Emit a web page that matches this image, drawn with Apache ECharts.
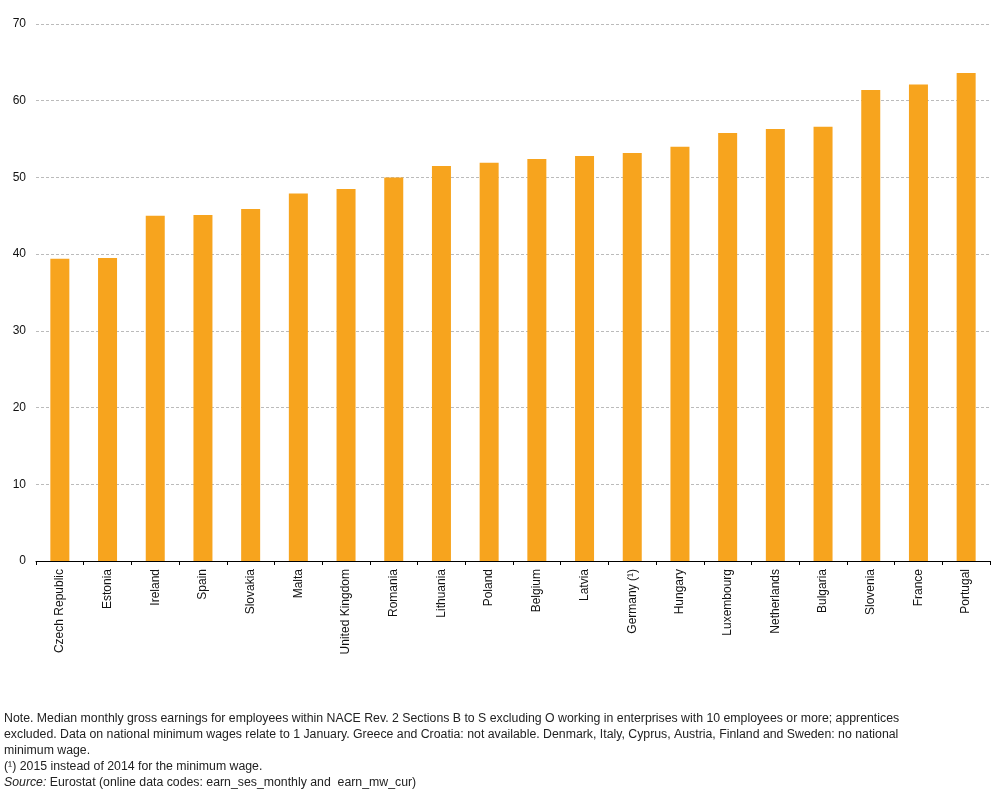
<!DOCTYPE html>
<html>
<head>
<meta charset="utf-8">
<script src="https://cdn.jsdelivr.net/npm/echarts@6/dist/echarts.min.js"></script>
<style>
html,body{margin:0;padding:0;background:#fff;}
#chart{width:1005px;height:792px;}
</style>
</head>
<body>
<div id="chart"></div>
<script>
const categories = ["Czech Republic","Estonia","Ireland","Spain","Slovakia","Malta","United Kingdom","Romania","Lithuania","Poland","Belgium","Latvia","Germany (¹)","Hungary","Luxembourg","Netherlands","Bulgaria","Slovenia","France","Portugal"];
const values = [39.4,39.5,45.0,45.1,45.9,47.9,48.5,50.0,51.5,51.9,52.4,52.8,53.2,54.0,55.8,56.3,56.6,61.4,62.1,63.6];
const yTicks = [0,10,20,30,40,50,60,70];
const noteLines = [
  "Note. Median monthly gross earnings for employees within NACE Rev. 2 Sections B to S excluding O working in enterprises with 10 employees or more; apprentices",
  "excluded. Data on national minimum wages relate to 1 January. Greece and Croatia: not available. Denmark, Italy, Cyprus, Austria, Finland and Sweden: no national",
  "minimum wage.",
  "(¹) 2015 instead of 2014 for the minimum wage."
];
const sourceLabel = "Source:";
const sourceText = " Eurostat (online data codes: earn_ses_monthly and  earn_mw_cur)";

const chart = echarts.init(document.getElementById('chart'), null, {renderer:'canvas'});
const font = 'Arial, "Liberation Sans", sans-serif';
const graphics = noteLines.map((t,i)=>({
  type:'text', left:4, top:713+i*16,
  style:{text:t, font:'12.3px '+font, fill:'#222'}
}));
graphics.push({
  type:'text', left:4, top:713+4*16,
  style:{
    text:'{i|'+sourceLabel+'}{n|'+sourceText+'}',
    rich:{
      i:{font:'italic 12.3px '+font, fill:'#222'},
      n:{font:'12.3px '+font, fill:'#222'}
    }
  }
});
chart.setOption({
  animation:false,
  backgroundColor:'#fff',
  grid:{left:36, right:15, top:24, bottom:231, containLabel:false},
  xAxis:{
    type:'category',
    data:categories,
    boundaryGap:true,
    axisLine:{show:true, lineStyle:{color:'#000', width:1}},
    axisTick:{show:true, length:4, lineStyle:{color:'#000'}},
    axisLabel:{rotate:90, margin:8, color:'#111', fontSize:12, fontFamily:font, interval:0}
  },
  yAxis:{
    type:'value', min:yTicks[0], max:yTicks[yTicks.length-1], interval:10,
    axisLine:{show:false}, axisTick:{show:false},
    axisLabel:{color:'#111', fontSize:12, fontFamily:font, margin:10},
    splitLine:{show:true, lineStyle:{color:'#bbb', type:[3,2], width:1}}
  },
  series:[{
    type:'bar',
    data:values,
    barWidth:19,
    itemStyle:{color:'#F7A41E'}
  }],
  graphic:graphics
});
</script>
</body>
</html>
